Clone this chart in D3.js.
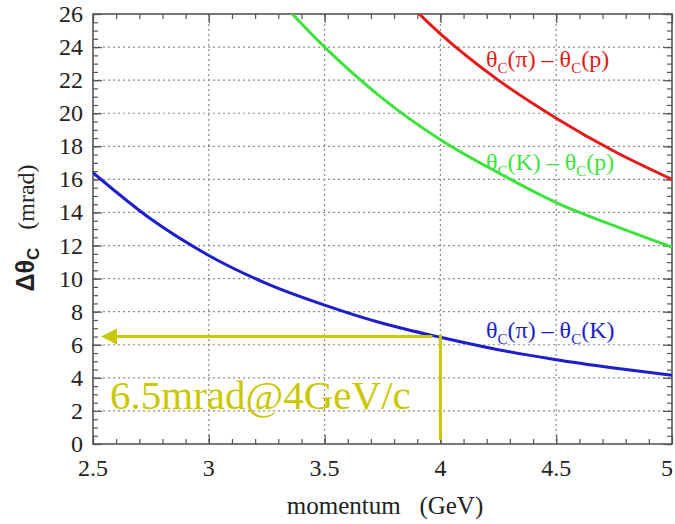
<!DOCTYPE html>
<html><head><meta charset="utf-8">
<script src="https://cdn.jsdelivr.net/npm/d3@7/dist/d3.min.js"></script>
<style>body{margin:0;background:#fff}svg{display:block}text{font-family:"Liberation Serif","Times New Roman",serif}</style>
</head><body><svg id="c" width="675" height="524"></svg>
<script>
const xTicks = [2.5, 3, 3.5, 4, 4.5, 5];
const yTicks = [0, 2, 4, 6, 8, 10, 12, 14, 16, 18, 20, 22, 24, 26];
const piKx = [2.5, 2.75, 3, 3.25, 3.5, 3.75, 4, 4.25, 4.5, 4.75, 5];
const piKy = [16.4, 13.6, 11.4, 9.7, 8.4, 7.3, 6.45, 5.7, 5.1, 4.6, 4.15];
const Kpx = [3.3, 3.5, 3.75, 4, 4.25, 4.5, 4.75, 5];
const Kpy = [26.9, 24.0, 20.9, 18.4, 16.4, 14.6, 13.2, 11.9];
const pipx = [3.85, 4, 4.25, 4.5, 4.75, 5];
const pipy = [26.8, 24.8, 22.0, 19.7, 17.7, 16.0];
const markP = 4, markV = 6.5;

const SERIF = "Liberation Serif, Times New Roman, serif";
const svg = d3.select("#c");
const L = 93, R = 672, T = 14, B = 444;
const x = d3.scaleLinear().domain([2.5, 5]).range([L, R]);
const y = d3.scaleLinear().domain([0, 26]).range([B, T]);

// grid
const g = svg.append("g");
g.selectAll(".gx").data(xTicks.slice(1, -1)).enter().append("line")
  .attr("x1", d => x(d)).attr("x2", d => x(d)).attr("y1", T).attr("y2", B)
  .attr("stroke", "#8a8a8a").attr("stroke-width", 1.2).attr("stroke-dasharray", "2,3");
g.selectAll(".gy").data(yTicks.slice(1, -1)).enter().append("line")
  .attr("x1", L).attr("x2", R).attr("y1", d => y(d)).attr("y2", d => y(d))
  .attr("stroke", "#8a8a8a").attr("stroke-width", 1.2).attr("stroke-dasharray", "2,3");

// axes
const xMinor = d3.range(25, 51).map(d => d / 10);
const yMinor = d3.range(0, 53).map(d => d / 2);
const axC = "#555";
function axis(a, tv, size) { return a.tickValues(tv).tickSize(size).tickFormat(""); }
svg.append("g").attr("transform", `translate(0,${B})`).call(axis(d3.axisTop(x), xMinor, 5));
svg.append("g").attr("transform", `translate(0,${B})`).call(axis(d3.axisTop(x), xTicks, 9));
svg.append("g").attr("transform", `translate(0,${T})`).call(axis(d3.axisBottom(x), xMinor, 5));
svg.append("g").attr("transform", `translate(0,${T})`).call(axis(d3.axisBottom(x), xTicks, 9));
svg.append("g").attr("transform", `translate(${L},0)`).call(axis(d3.axisRight(y), yMinor, 5));
svg.append("g").attr("transform", `translate(${L},0)`).call(axis(d3.axisRight(y), yTicks, 9));
svg.append("g").attr("transform", `translate(${R},0)`).call(axis(d3.axisLeft(y), yMinor, 5));
svg.append("g").attr("transform", `translate(${R},0)`).call(axis(d3.axisLeft(y), yTicks, 9));
svg.selectAll(".domain").remove();
svg.selectAll(".tick line").attr("stroke", axC).attr("stroke-width", 1.2);
svg.append("rect").attr("x", L).attr("y", T).attr("width", R - L).attr("height", B - T)
  .attr("fill", "none").attr("stroke", axC).attr("stroke-width", 1.6);

// tick labels
svg.selectAll(".xl").data(xTicks).enter().append("text")
  .attr("x", d => Math.min(x(d), 667)).attr("y", B + 32).attr("text-anchor", "middle")
  .attr("font-family", SERIF).style("font-family", SERIF)
  .attr("font-size", 24).attr("fill", "#222").text(d => d);
svg.selectAll(".yl").data(yTicks).enter().append("text")
  .attr("x", L - 10).attr("y", d => y(d) + 8).attr("text-anchor", "end")
  .attr("font-family", SERIF).style("font-family", SERIF)
  .attr("font-size", 24).attr("fill", "#222").text(d => d);

// axis titles
svg.append("text").attr("x", 385).attr("y", 514).attr("text-anchor", "middle")
  .attr("font-size", 25).attr("fill", "#222").attr("xml:space", "preserve").text("momentum   (GeV)");
const yt = svg.append("text").attr("transform", "translate(34,228) rotate(-90)")
  .attr("text-anchor", "middle").attr("font-size", 24).attr("fill", "#222");
yt.append("tspan").attr("font-weight", "bold").style("font-family", "Liberation Sans, Arial, sans-serif").attr("font-size", 25).text("Δθ");
yt.append("tspan").attr("font-weight", "bold").style("font-family", "Liberation Sans, Arial, sans-serif").attr("font-size", 17).attr("dy", 5).text("C");
yt.append("tspan").attr("dy", -5).attr("xml:space", "preserve").text("   (mrad)");

// curves
svg.append("defs").append("clipPath").attr("id", "clip").append("rect")
  .attr("x", L).attr("y", T).attr("width", R - L).attr("height", B - T);
const line = d3.line().x(d => x(d[0])).y(d => y(d[1])).curve(d3.curveMonotoneX);
const series = [
  { xs: piKx, ys: piKy, c: "#1d1dcc" },
  { xs: Kpx, ys: Kpy, c: "#3de23d" },
  { xs: pipx, ys: pipy, c: "#e51a1a" }
];
series.forEach(s => {
  svg.append("path").attr("clip-path", "url(#clip)")
    .attr("d", line(s.xs.map((v, i) => [v, s.ys[i]])))
    .attr("fill", "none").attr("stroke", s.c).attr("stroke-width", 3);
});

// curve labels
function lab(px, py, a, b, col) {
  const t = svg.append("text").attr("x", px).attr("y", py).attr("font-size", 24).attr("fill", col);
  t.append("tspan").text("θ");
  t.append("tspan").attr("font-size", 15).attr("dy", 6).text("C");
  t.append("tspan").attr("dy", -6).text("(" + a + ") – θ");
  t.append("tspan").attr("font-size", 15).attr("dy", 6).text("C");
  t.append("tspan").attr("dy", -6).text("(" + b + ")");
}
lab(486, 67, "π", "p", "#e51a1a");
lab(486, 170, "K", "p", "#3de23d");
lab(486, 338, "π", "K", "#1d1dcc");

// annotation
const yel = "#c9c800";
svg.append("line").attr("x1", x(markP) - 8).attr("x2", x(2.5) + 20)
  .attr("y1", y(markV)).attr("y2", y(markV)).attr("stroke", yel).attr("stroke-width", 3);
svg.append("path").attr("fill", yel)
  .attr("d", `M${x(2.5) + 8},${y(markV)} l16,-8 l0,16 z`);
svg.append("line").attr("x1", x(markP)).attr("x2", x(markP))
  .attr("y1", y(markV) - 2).attr("y2", B - 4).attr("stroke", yel).attr("stroke-width", 3);
svg.append("text").attr("x", 110).attr("y", 409).attr("font-size", 41).attr("fill", yel)
  .text("6.5mrad@4GeV/c");
</script></body></html>
